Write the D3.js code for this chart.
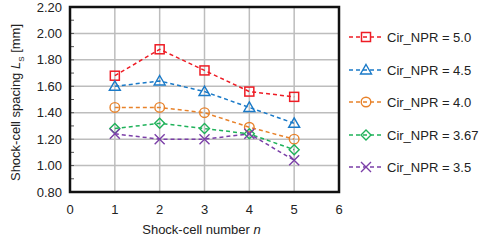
<!DOCTYPE html>
<html><head><meta charset="utf-8">
<script src="https://cdn.jsdelivr.net/npm/d3@7"></script>
<style>body{margin:0;background:#fff}svg{display:block}text{font-family:Arial,"Liberation Sans",sans-serif;fill:#222}</style>
</head><body><svg id="c" width="487" height="240"></svg>
<script>
const xValues = [1, 2, 3, 4, 5];
const seriesNames = ["Cir_NPR = 5.0", "Cir_NPR = 4.5", "Cir_NPR = 4.0", "Cir_NPR = 3.67", "Cir_NPR = 3.5"];
const npr50 = [1.68, 1.88, 1.72, 1.56, 1.52];
const npr45 = [1.60, 1.64, 1.56, 1.44, 1.32];
const npr40 = [1.44, 1.44, 1.40, 1.29, 1.20];
const npr367 = [1.28, 1.32, 1.28, 1.24, 1.12];
const npr35 = [1.24, 1.20, 1.20, 1.24, 1.04];
const xTicks = [0, 1, 2, 3, 4, 5, 6];
const yTicks = [0.8, 1.0, 1.2, 1.4, 1.6, 1.8, 2.0, 2.2];
const colors = ["#ee1c25", "#1a7ac8", "#e8822a", "#1fb25a", "#7b3fa8"];
const symbols = ["square", "triangle", "circle", "diamond", "cross"];
const allSeries = [npr50, npr45, npr40, npr367, npr35];

const svg = d3.select("#c");
const L = 70, R = 339, T = 7, B = 192;
const x = d3.scaleLinear().domain([0, 6]).range([L, R]);
const y = d3.scaleLinear().domain([0.8, 2.2]).range([B, T]);

// grid
svg.append("g").selectAll("line").data(xTicks.slice(1, -1)).join("line")
  .attr("x1", d => x(d)).attr("x2", d => x(d)).attr("y1", T).attr("y2", B)
  .attr("stroke", "#bdbdbd").attr("stroke-width", 1.5);
svg.append("g").selectAll("line").data(yTicks.slice(1, -1)).join("line")
  .attr("x1", L).attr("x2", R).attr("y1", d => y(d)).attr("y2", d => y(d))
  .attr("stroke", "#bdbdbd").attr("stroke-width", 1.5);

// minor ticks on y axis (inside)
const minor = d3.range(0.9, 2.2, 0.1);
svg.append("g").selectAll("line").data(minor).join("line")
  .attr("x1", L).attr("x2", L + 4).attr("y1", d => y(d)).attr("y2", d => y(d))
  .attr("stroke", "#555").attr("stroke-width", 1);

// frame
svg.append("rect").attr("x", L).attr("y", T).attr("width", R - L).attr("height", B - T)
  .attr("fill", "none").attr("stroke", "#111").attr("stroke-width", 2.5);

// tick labels
svg.append("g").selectAll("text").data(yTicks).join("text")
  .attr("x", L - 8).attr("y", d => y(d)).attr("dy", "0.35em").attr("text-anchor", "end")
  .attr("font-size", 13).text(d => d.toFixed(2));
svg.append("g").selectAll("text").data(xTicks).join("text")
  .attr("x", d => x(d)).attr("y", 209).attr("dy", "0.35em").attr("text-anchor", "middle")
  .attr("font-size", 13).text(d => d);

// axis titles
const xt = svg.append("text").attr("x", (L + R) / 2 - 3).attr("y", 229).attr("dy", "0.35em")
  .attr("text-anchor", "middle").attr("font-size", 13);
xt.append("tspan").text("Shock-cell number ");
xt.append("tspan").attr("font-style", "italic").text("n");
const yt = svg.append("text").attr("transform", `translate(15,${(T + B) / 2 + 3}) rotate(-90)`)
  .attr("dy", "0.35em").attr("text-anchor", "middle").attr("font-size", 13);
yt.append("tspan").text("Shock-cell spacing ");
yt.append("tspan").attr("font-style", "italic").text("L");
yt.append("tspan").attr("font-size", 8).attr("dy", "4").text("S");
yt.append("tspan").attr("dy", "-4").text(" [mm]");

function marker(g, type, color, cx, cy) {
  const s = 4.5;
  if (type === "square") g.append("rect").attr("x", cx - s).attr("y", cy - s).attr("width", 2 * s).attr("height", 2 * s)
    .attr("fill", "none").attr("stroke", color).attr("stroke-width", 1.5);
  else if (type === "circle") g.append("circle").attr("cx", cx).attr("cy", cy).attr("r", s + 0.3)
    .attr("fill", "none").attr("stroke", color).attr("stroke-width", 1.4);
  else if (type === "triangle") g.append("path").attr("d", `M${cx},${cy - 5.5}L${cx + 5.5},${cy + 4}L${cx - 5.5},${cy + 4}Z`)
    .attr("fill", "none").attr("stroke", color).attr("stroke-width", 1.4);
  else if (type === "diamond") g.append("path").attr("d", `M${cx},${cy - 5}L${cx + 5},${cy}L${cx},${cy + 5}L${cx - 5},${cy}Z`)
    .attr("fill", "none").attr("stroke", color).attr("stroke-width", 1.4);
  else if (type === "cross") g.append("path").attr("d", `M${cx - 5},${cy - 5}L${cx + 5},${cy + 5}M${cx + 5},${cy - 5}L${cx - 5},${cy + 5}`)
    .attr("fill", "none").attr("stroke", color).attr("stroke-width", 1.4);
}

const line = d3.line().x((d, i) => x(xValues[i])).y(d => y(d));
allSeries.forEach((vals, k) => {
  const g = svg.append("g");
  g.append("path").attr("d", line(vals)).attr("fill", "none").attr("stroke", colors[k])
    .attr("stroke-width", 1.5).attr("stroke-dasharray", "4,3");
  vals.forEach((v, i) => marker(g, symbols[k], colors[k], x(xValues[i]), y(v)));
});

// legend
const legY = [37, 70, 102, 135, 167];
seriesNames.forEach((name, k) => {
  const g = svg.append("g");
  g.append("line").attr("x1", 349).attr("x2", 381).attr("y1", legY[k]).attr("y2", legY[k])
    .attr("stroke", colors[k]).attr("stroke-width", 1.5).attr("stroke-dasharray", "4,3");
  marker(g, symbols[k], colors[k], 366, legY[k]);
  g.append("text").attr("x", 387).attr("y", legY[k]).attr("dy", "0.35em").attr("font-size", 13).text(name);
});
</script></body></html>
